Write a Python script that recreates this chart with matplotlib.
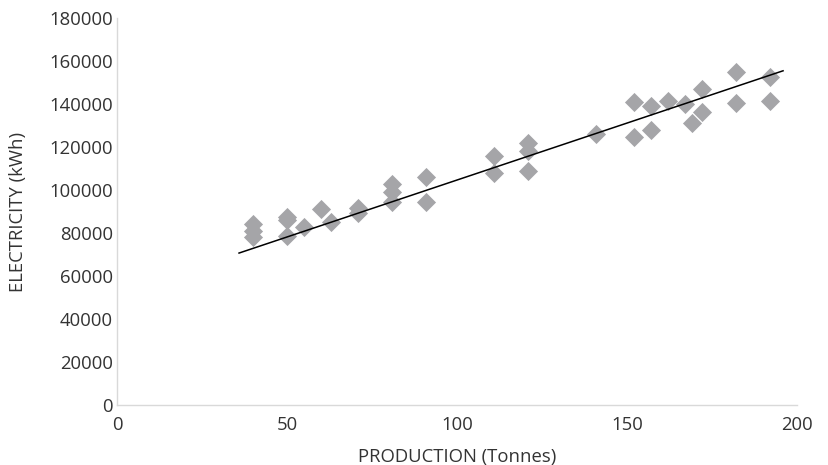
import matplotlib
matplotlib.use("Agg")
import matplotlib.pyplot as plt

# production (tonnes) vs electricity (kWh)
production = [40, 40, 40, 50, 50, 50, 55, 60, 63, 71, 71, 81, 81, 81, 91, 91,
              111, 111, 121, 121, 121, 141, 152, 152, 157, 157, 162, 167, 169,
              172, 172, 182, 182, 192, 192]
electricity = [84000, 81000, 78000, 87500, 86000, 78500, 83000, 91000, 85000,
               91500, 89500, 103000, 99000, 94500, 106000, 94500,
               116000, 108000, 122000, 118000, 109000, 126000, 141000, 124500,
               139000, 128000, 141500, 140000, 131000, 147000, 136500,
               155000, 140500, 152500, 141500]

# linear trendline end points
trend_x = [35.9, 195.9]
trend_y = [70700, 155500]

plt.rcParams['font.family'] = ['Open Sans', 'DejaVu Sans']

fig = plt.figure(figsize=(8.29, 4.65), dpi=100)
ax = fig.add_axes([0.1411, 0.129, 0.8203, 0.832])

ax.scatter(production, electricity, marker='D', s=95, color='#a5a5a8',
           linewidths=0, zorder=2)
ax.plot(trend_x, trend_y, color='black', linewidth=1.1, zorder=3)

ax.set_xlim(0, 200)
ax.set_ylim(0, 180000)
ax.set_xticks([0, 50, 100, 150, 200])
ax.set_yticks(range(0, 180001, 20000))
ax.tick_params(length=0, labelsize=13.3, colors='#333333')
ax.tick_params(axis='x', pad=8)
ax.tick_params(axis='y', pad=3)

for side in ['top', 'right']:
    ax.spines[side].set_visible(False)
for side in ['left', 'bottom']:
    ax.spines[side].set_color('#d9d9d9')
    ax.spines[side].set_linewidth(1)

ax.set_xlabel('PRODUCTION (Tonnes)', fontsize=13.3, color='#333333', labelpad=10)
ax.set_ylabel('ELECTRICITY (kWh)', fontsize=13.3, color='#333333', labelpad=16)

fig.savefig('out.png', dpi=100)
